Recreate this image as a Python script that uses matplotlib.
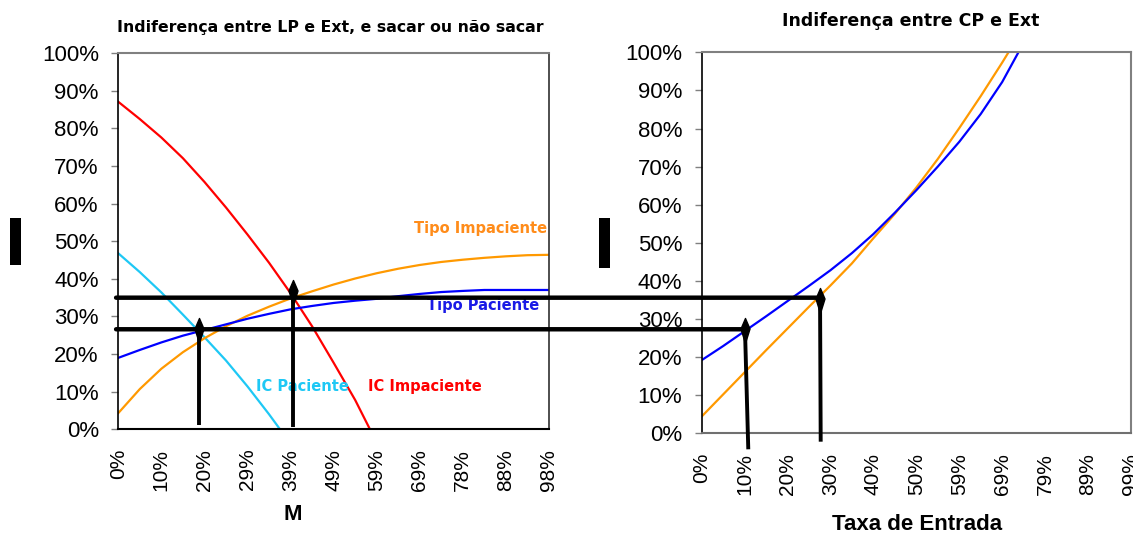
import numpy as np
import matplotlib
matplotlib.use('Agg')
import matplotlib.pyplot as plt
from matplotlib.path import Path
from matplotlib.patches import ConnectionPatch, Rectangle
from matplotlib.transforms import blended_transform_factory

plt.rcParams['font.family'] = ['Liberation Sans', 'DejaVu Sans']

# ---- left chart: indifference LP vs Ext (x = M) ----
m_x = [0.000, 0.049, 0.098, 0.147, 0.196, 0.245, 0.294, 0.343, 0.392, 0.441, 0.490,
       0.539, 0.588, 0.637, 0.686, 0.735, 0.784, 0.833, 0.882, 0.931, 0.980]
tipo_pac_left = [0.190, 0.211, 0.231, 0.249, 0.264, 0.279, 0.294, 0.307, 0.319, 0.328, 0.336,
                 0.342, 0.347, 0.354, 0.360, 0.365, 0.368, 0.3705, 0.3705, 0.3705, 0.3705]
tipo_imp_left = [0.043, 0.107, 0.161, 0.205, 0.242, 0.274, 0.302, 0.326, 0.348, 0.367, 0.385,
                 0.401, 0.415, 0.427, 0.437, 0.445, 0.451, 0.456, 0.460, 0.463, 0.464]
ic_pac_x = [0.000, 0.049, 0.098, 0.147, 0.196, 0.245, 0.294, 0.343, 0.368]
ic_pac = [0.468, 0.418, 0.364, 0.305, 0.245, 0.183, 0.114, 0.040, 0.000]
ic_imp_x = [0.000, 0.049, 0.098, 0.147, 0.196, 0.245, 0.294, 0.343, 0.392, 0.441, 0.490, 0.539, 0.5727]
ic_imp = [0.871, 0.825, 0.776, 0.721, 0.658, 0.590, 0.518, 0.443, 0.362, 0.274, 0.177, 0.078, 0.000]
m_ticks = [0.0, 0.098, 0.196, 0.294, 0.392, 0.490, 0.588, 0.686, 0.784, 0.882, 0.980]
m_labels = ['0%', '10%', '20%', '29%', '39%', '49%', '59%', '69%', '78%', '88%', '98%']

# ---- right chart: indifference CP vs Ext (x = Taxa de Entrada) ----
taxa_x = [0.000, 0.0495, 0.099, 0.1485, 0.198, 0.2475, 0.297, 0.3465, 0.396, 0.4455, 0.495,
          0.5445, 0.594, 0.6435, 0.693, 0.7425]
tipo_pac_right = [0.192, 0.229, 0.268, 0.307, 0.347, 0.387, 0.428, 0.473, 0.523, 0.579, 0.638,
                  0.700, 0.765, 0.838, 0.922, 1.025]
tipo_imp_right = [0.044, 0.102, 0.160, 0.218, 0.275, 0.332, 0.388, 0.446, 0.512, 0.576, 0.645,
                  0.720, 0.801, 0.885, 0.973, 1.065]
taxa_ticks = [0.0, 0.099, 0.198, 0.297, 0.396, 0.495, 0.594, 0.693, 0.792, 0.891, 0.990]
taxa_labels = ['0%', '10%', '20%', '30%', '40%', '50%', '59%', '69%', '79%', '89%', '99%']

y_ticks = [0.0, 0.1, 0.2, 0.3, 0.4, 0.5, 0.6, 0.7, 0.8, 0.9, 1.0]
y_labels = ['0%', '10%', '20%', '30%', '40%', '50%', '60%', '70%', '80%', '90%', '100%']

# drawn guide lines / arrows
h_levels = [0.350, 0.266]          # left-chart units
h_end_x = [0.265, 0.092]           # right-chart x where each line stops
arrL_x = [0.1836, 0.398]
arrL_bot = [0.011, 0.007]
arrL_top = [0.295, 0.397]
arrR_x_top = [0.0999, 0.273]
arrR_x_bot = [0.1075, 0.2745]
arrR_top = [0.302, 0.381]
arrR_bot = [-0.042, -0.022]

ORANGE = '#FF9900'
BLUE = '#0000FF'
RED = '#FF0000'
CYAN = '#1EC8F5'

fig = plt.figure(figsize=(11.33, 5.35), dpi=100)
ax1 = fig.add_axes([0.1044, 0.1976, 0.3801, 0.7028])
ax2 = fig.add_axes([0.6193, 0.1901, 0.3789, 0.7121])

lw = 1.6
ax1.plot(ic_imp_x, ic_imp, color=RED, lw=lw)
ax1.plot(ic_pac_x, ic_pac, color=CYAN, lw=lw)
ax1.plot(m_x, tipo_imp_left, color=ORANGE, lw=lw)
ax1.plot(m_x, tipo_pac_left, color=BLUE, lw=lw)
ax1.set_xlim(0, 0.98)

ax2.plot(taxa_x, tipo_imp_right, color=ORANGE, lw=lw)
ax2.plot(taxa_x, tipo_pac_right, color=BLUE, lw=lw)
ax2.set_xlim(0, 0.99)

for ax, ticks, labels in [(ax1, m_ticks, m_labels), (ax2, taxa_ticks, taxa_labels)]:
    ax.set_ylim(0, 1)
    ax.set_yticks(y_ticks)
    ax.set_yticklabels(y_labels)
    ax.set_xticks(ticks)
    ax.set_xticklabels(labels, rotation=90)
    ax.tick_params(axis='y', length=5, width=1, color='#808080', pad=9, labelsize=16)
    ax.tick_params(axis='x', length=0, pad=14, labelsize=15)
    for s in ['top', 'right']:
        ax.spines[s].set_color('#808080')
        ax.spines[s].set_linewidth(1.5)
    ax.spines['left'].set_color('black')
    ax.spines['bottom'].set_color('black')
    ax.spines['left'].set_linewidth(1.2)
    ax.spines['bottom'].set_linewidth(1.5)
ax1.spines['right'].set_color('#303030')
ax1.spines['right'].set_linewidth(1.2)
ax2.spines['bottom'].set_color('#707070')

# series labels (wide bold face to mimic the spaced lettering)
tk = dict(fontsize=10.5, fontweight='bold', va='center', family='DejaVu Sans')
ax1.text(0.975, 0.533, 'Tipo Impaciente', color='#FF8C1A', ha='right', **tk)
ax1.text(0.830, 0.328, 'Tipo Paciente', color='#1A1AE6', ha='center', **tk)
ax1.text(0.419, 0.115, 'IC Paciente', color=CYAN, ha='center', **tk)
ax1.text(0.697, 0.113, 'IC Impaciente', color=RED, ha='center', **tk)

# titles and axis titles
fig.text(0.2913, 0.9495, 'Indiferença entre LP e Ext, e sacar ou não sacar',
         ha='center', va='center', fontsize=11.3, fontweight='bold', family='DejaVu Sans')
fig.text(0.804, 0.9607, 'Indiferença entre CP e Ext',
         ha='center', va='center', fontsize=12.5, fontweight='bold', family='DejaVu Sans')
fig.text(0.2586, 0.0383, 'M', ha='center', va='center', fontsize=16, fontweight='bold')
fig.text(0.8094, 0.0187, 'Taxa de Entrada', ha='center', va='center', fontsize=16, fontweight='bold')

# black blocks where the y-axis titles were
fig.add_artist(Rectangle((0.0088, 0.5047), 0.0097, 0.0879, transform=fig.transFigure,
                         color='black', lw=0))
fig.add_artist(Rectangle((0.5287, 0.499), 0.0097, 0.0935, transform=fig.transFigure,
                         color='black', lw=0))

# horizontal guide lines spanning both charts
blend = blended_transform_factory(ax2.transData, ax1.transData)
for yv, xe in zip(h_levels, h_end_x):
    con = ConnectionPatch(xyA=(-0.005, yv), coordsA=ax1.transData,
                          xyB=(xe, yv), coordsB=blend,
                          color='black', lw=3.2, zorder=10)
    fig.add_artist(con)

# diamond arrow head, tip at the data point
head = Path([(0, 0), (0.18, -0.42), (0, -1), (-0.18, -0.42), (0, 0)],
            [Path.MOVETO, Path.LINETO, Path.LINETO, Path.LINETO, Path.CLOSEPOLY])

for x, yb, yt in zip(arrL_x, arrL_bot, arrL_top):
    ax1.plot([x, x], [yb, yt - 0.03], color='black', lw=2.8, solid_capstyle='butt',
             zorder=11, clip_on=False)
    ax1.plot([x], [yt], marker=head, markersize=36, color='black', lw=0, zorder=12,
             clip_on=False)

for xt, xb, yb, yt in zip(arrR_x_top, arrR_x_bot, arrR_bot, arrR_top):
    ax2.plot([xb, xt], [yb, yt - 0.03], color='black', lw=2.8, solid_capstyle='butt',
             zorder=11, clip_on=False)
    ax2.plot([xt], [yt], marker=head, markersize=36, color='black', lw=0, zorder=12,
             clip_on=False)

fig.savefig('out.png', dpi=100)
